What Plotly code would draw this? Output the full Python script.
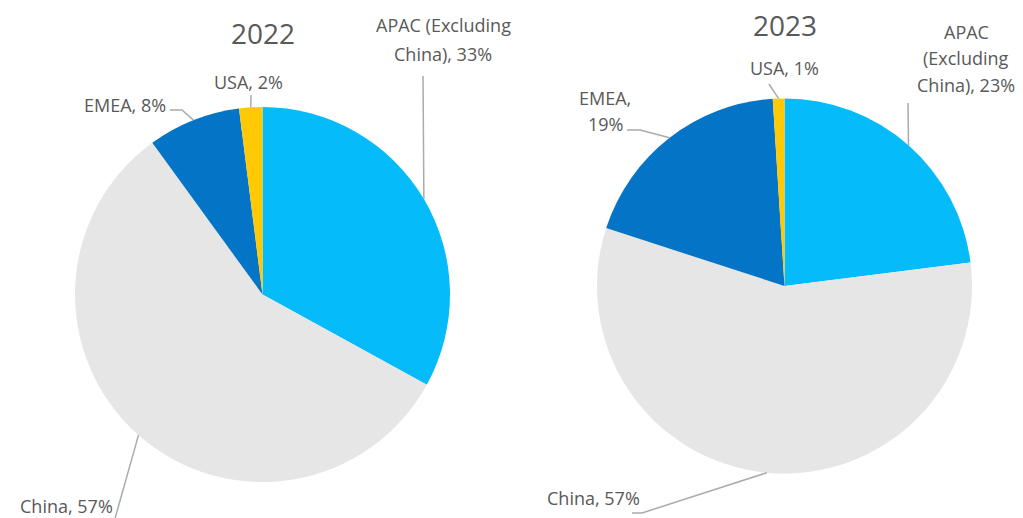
import math
import plotly.graph_objects as go

W, H = 1023, 518

# ---- data ----
categories = ["APAC (Excluding China)", "China", "EMEA", "USA"]
values_2022 = [33, 57, 8, 2]
values_2023 = [23, 57, 19, 1]
years = ["2022", "2023"]
label_lines_2022 = [["APAC (Excluding", "China), 33%"], ["China, 57%"], ["EMEA, 8%"], ["USA, 2%"]]
label_lines_2023 = [["APAC", "(Excluding", "China), 23%"], ["China, 57%"], ["EMEA,", "19%"], ["USA, 1%"]]

colors = ["#06BBFA", "#E6E6E6", "#0474C6", "#FFC905"]
TEXT = "#595959"
LINE = "#ABABAB"
FONT = "Open Sans"

# ---- layout (pixel geometry) ----
pies = [
    dict(cx=262.5, cy=294.5, r=187.5, title_y=33,
         labels=[dict(x=443, y=25, sp=29, path=[(423, 76)]),
                 dict(x=66, y=506, sp=26, path=[(114, 522)]),
                 dict(x=125, y=105, sp=26, path=[(182, 110), (170, 110)]),
                 dict(x=248, y=82, sp=26, path=[(251, 95)])]),
    dict(cx=784.5, cy=286, r=187.5, title_y=25,
         labels=[dict(x=966, y=32, sp=26.5, path=[(908, 103)]),
                 dict(x=593, y=498, sp=26, path=[(642, 513), (632, 513)]),
                 dict(x=605, y=98, sp=26, path=[(640, 130), (627, 130)]),
                 dict(x=784, y=68, sp=26, path=[(769, 84)])]),
]

def px(x):
    return x / W

def py(y):
    return 1 - y / H

fig = go.Figure()
all_values = [values_2022, values_2023]
all_lines = [label_lines_2022, label_lines_2023]

annotations = []
shapes = []
for vals, lines, geo, year in zip(all_values, all_lines, pies, years):
    cx, cy, r = geo["cx"], geo["cy"], geo["r"]
    fig.add_trace(go.Pie(
        labels=categories, values=vals, sort=False, direction="clockwise",
        rotation=0, textinfo="none", hoverinfo="label+percent",
        marker=dict(colors=colors, line=dict(width=0)),
        domain=dict(x=[px(cx - r), px(cx + r)], y=[py(cy + r), py(cy - r)]),
        showlegend=False,
    ))
    annotations.append(dict(text=year, x=px(cx), y=py(geo["title_y"]), xref="paper", yref="paper",
                            showarrow=False, xanchor="center", yanchor="middle",
                            font=dict(family=FONT, size=28, color=TEXT)))
    total = sum(vals)
    cum = 0
    for v, lab_lines, lab in zip(vals, lines, geo["labels"]):
        theta = 2 * math.pi * (cum + v / 2) / total
        cum += v
        ax = cx + r * math.sin(theta)
        ay = cy - r * math.cos(theta)
        pts = [(ax, ay)] + lab["path"]
        d = "M " + " L ".join(f"{px(x):.5f},{py(y):.5f}" for x, y in pts)
        shapes.append(dict(type="path", path=d, xref="paper", yref="paper",
                           line=dict(color=LINE, width=1.5)))
        for i, t in enumerate(lab_lines):
            annotations.append(dict(text=t, x=px(lab["x"]), y=py(lab["y"] + i * lab["sp"]),
                                    xref="paper", yref="paper", showarrow=False,
                                    xanchor="center", yanchor="middle",
                                    font=dict(family=FONT, size=18, color=TEXT)))

fig.update_layout(
    width=W, height=H, margin=dict(l=0, r=0, t=0, b=0),
    paper_bgcolor="white", plot_bgcolor="white",
    annotations=annotations, shapes=shapes,
)
fig.write_html("out.html", config={"displayModeBar": False},
               post_script="document.body.style.margin='0';document.body.style.overflow='hidden';")
